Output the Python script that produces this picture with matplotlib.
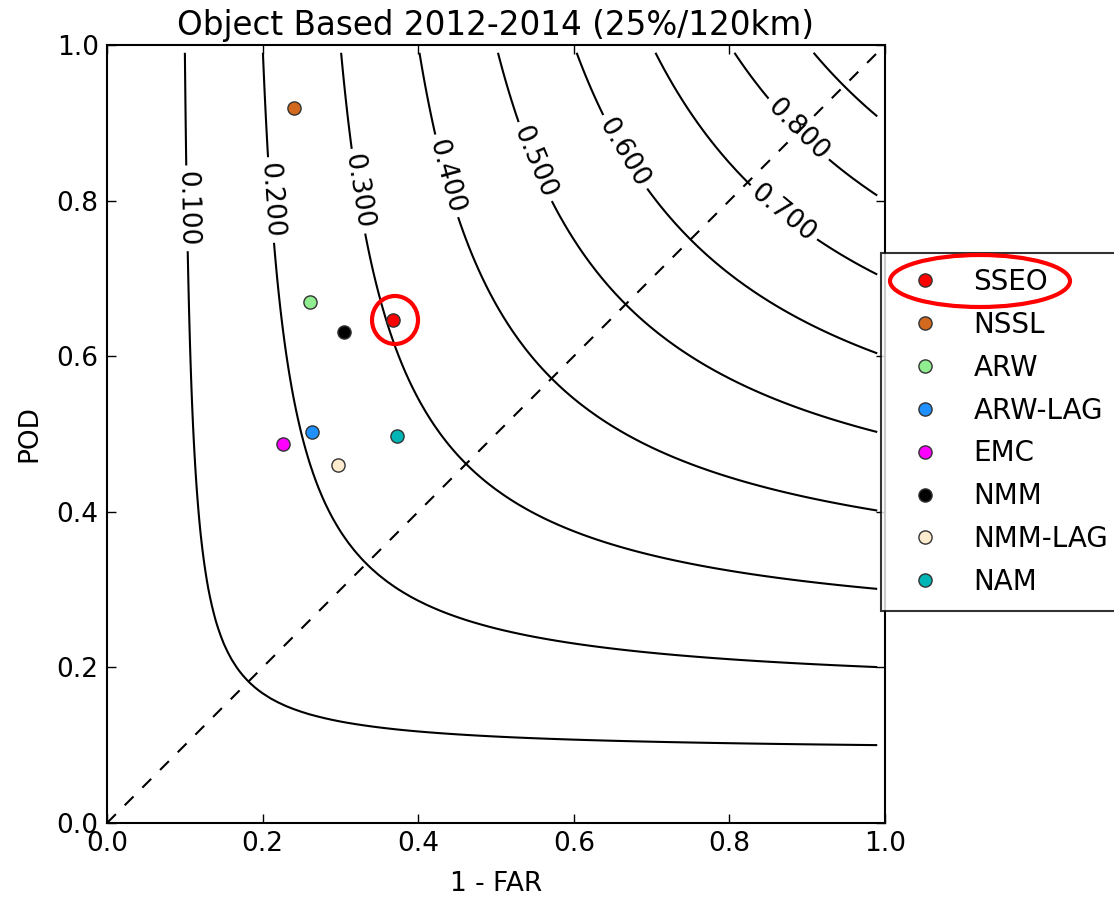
import numpy as np
import matplotlib
matplotlib.use("Agg")
import matplotlib.pyplot as plt
from matplotlib.patches import Ellipse

# ---- data ----
models = ["SSEO", "NSSL", "ARW", "ARW-LAG", "EMC", "NMM", "NMM-LAG", "NAM"]
sr_vals = [0.367, 0.240, 0.261, 0.264, 0.226, 0.305, 0.297, 0.373]   # 1 - FAR
pod_vals = [0.646, 0.919, 0.670, 0.502, 0.487, 0.631, 0.460, 0.498]
colors = ["#ff0000", "#d2691e", "#90ee90", "#1e90ff", "#ff00ff", "#000000", "#ffebcd", "#00b5b5"]
csi_levels = [0.1, 0.2, 0.3, 0.4, 0.5, 0.6, 0.7, 0.8, 0.9]
title = "Object Based 2012-2014 (25%/120km)"

plt.rcParams.update({
    "font.family": "DejaVu Sans",
    "xtick.direction": "in", "ytick.direction": "in",
    "xtick.top": True, "ytick.right": True,
    "xtick.major.size": 6.5, "ytick.major.size": 6.5,
    "xtick.major.width": 1.0, "ytick.major.width": 1.0,
    "axes.linewidth": 1.5,
})

fig = plt.figure(figsize=(11.14, 8.97), dpi=100)
ax = fig.add_axes([107/1114, 1 - 823/897, 778/1114, 778/897])

g = np.arange(0.01, 1.0, 0.01)
SR, POD = np.meshgrid(g, g)
CSI = 1.0 / (1.0 / SR + 1.0 / POD - 1.0)
cs = ax.contour(SR, POD, CSI, levels=csi_levels, colors="k", linewidths=1.5)
label_pos = [(0.10, 0.79), (0.20, 0.80), (0.31, 0.81), (0.43, 0.83), (0.55, 0.85),
             (0.67, 0.865), (0.87, 0.785), (0.887, 0.89)]
ax.clabel(cs, levels=csi_levels[:8], fmt="%.3f", fontsize=19, inline=True,
          inline_spacing=6, manual=label_pos)

ax.plot([0, 0.99], [0, 0.99], "k--", lw=1.5, dashes=(6, 6))

for m, x, y, c in zip(models, sr_vals, pod_vals, colors):
    ax.plot(x, y, "o", color=c, markersize=9.5, markeredgecolor="#333333",
            markeredgewidth=1.0, label=m, linestyle="none")

ax.set_xlim(0, 1)
ax.set_ylim(0, 1)
ax.set_xticks([0, 0.2, 0.4, 0.6, 0.8, 1.0])
ax.set_yticks([0, 0.2, 0.4, 0.6, 0.8, 1.0])
ax.set_xticklabels(["0.0", "0.2", "0.4", "0.6", "0.8", "1.0"])
ax.set_yticklabels(["0.0", "0.2", "0.4", "0.6", "0.8", "1.0"])
ax.tick_params(labelsize=19, pad=6)
ax.set_xlabel("1 - FAR", fontsize=19, labelpad=10)
ax.set_ylabel("POD", fontsize=19, labelpad=10)
ax.set_title(title, fontsize=23.5, pad=7)

leg = ax.legend(loc="upper left", bbox_to_anchor=(0.9955, 0.733), borderaxespad=0,
                numpoints=1, fontsize=20, frameon=True, fancybox=False,
                labelspacing=0.535, handlelength=2.0, handletextpad=0.76,
                borderpad=0.55)
leg.get_frame().set_edgecolor("black")
leg.get_frame().set_linewidth(1.5)

# red highlight ellipses
fig.patches.append(Ellipse((395/1114, 1 - 320/897), 46/1114, 48/897, transform=fig.transFigure,
                           fill=False, edgecolor="red", linewidth=3, zorder=10))
fig.patches.append(Ellipse((980/1114, 1 - 281/897), 180/1114, 52/897, transform=fig.transFigure,
                           fill=False, edgecolor="red", linewidth=3, zorder=10))

fig.savefig("out.png", dpi=100, facecolor="white")
